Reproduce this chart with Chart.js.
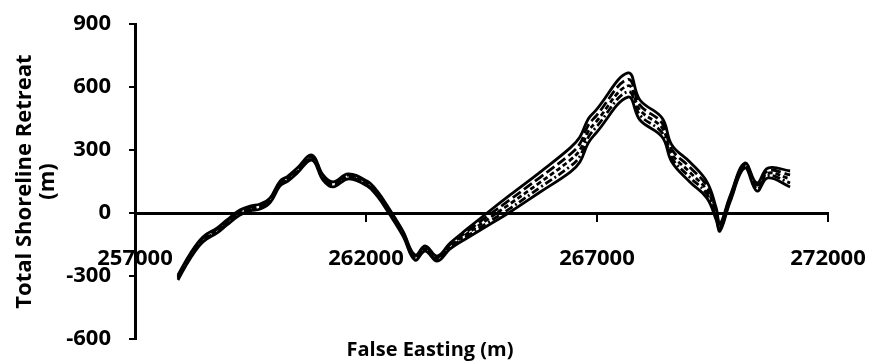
<!DOCTYPE html>
<html>
<head>
<meta charset="utf-8">
<script src="https://cdn.jsdelivr.net/npm/chart.js@4.4.0/dist/chart.umd.min.js"></script>
<style>
  html, body { margin: 0; padding: 0; background: #fff; }
  #wrap { width: 869px; height: 363px; }
</style>
</head>
<body>
<div id="wrap"><canvas id="shoreline"></canvas></div>
<script>
// False easting (m) of each profile
const easting = [
  257930, 258190, 258470, 258780, 258990, 259270, 259490, 259710, 259920, 260140,
  260310, 260510, 260830, 261070, 261290, 261610, 262020, 262240, 262520, 262800,
  263060, 263280, 263540, 263820, 264190, 264620, 265120, 265770, 266420, 266630,
  266810, 266980, 267670, 267930, 268410, 268620, 269010, 269380, 269580, 269660,
  269880, 270200, 270460, 270700, 271180
];

// Total shoreline retreat (m), one array per series
const retreatSolidTop = [
  -295, -195, -114, -71, -33, 14, 33, 43, 71, 152,
  176, 214, 276, 181, 148, 186, 152, 105, 14, -86,
  -200, -157, -205, -143, -76, 0, 86, 195, 310, 362,
  448, 490, 667, 538, 452, 324, 243, 148, 24, -52,
  81, 238, 143, 214, 200
];
const retreatLongDash = [
  -301, -201, -120, -77, -39, 8, 27, 37, 65, 146,
  170, 208, 270, 175, 142, 180, 146, 99, 8, -92,
  -206, -163, -211, -150, -88, -16, 64, 170, 280, 330,
  418, 462, 636, 514, 428, 302, 218, 128, 9, -60,
  74, 232, 133, 202, 181
];
const retreatDash = [
  -307, -207, -126, -83, -45, 2, 21, 31, 59, 140,
  164, 202, 264, 169, 136, 174, 140, 93, 2, -98,
  -212, -169, -217, -157, -98, -32, 44, 146, 252, 300,
  388, 434, 606, 490, 405, 282, 194, 108, -5, -69,
  66, 226, 124, 190, 162
];
const retreatDashDot = [
  -313, -213, -132, -89, -51, -4, 15, 25, 53, 134,
  158, 196, 258, 163, 130, 168, 134, 87, -4, -104,
  -218, -175, -223, -164, -110, -48, 22, 122, 222, 270,
  360, 408, 578, 466, 382, 262, 170, 90, -19, -78,
  59, 220, 114, 178, 143
];
const retreatSolidBottom = [
  -319, -219, -138, -95, -57, -10, 10, 19, 48, 129,
  152, 190, 252, 157, 124, 162, 129, 81, -10, -110,
  -224, -181, -229, -171, -119, -62, 5, 100, 195, 243,
  333, 381, 552, 443, 362, 243, 148, 71, -33, -86,
  52, 214, 105, 167, 124
];

const xTicks = [257000, 262000, 267000, 272000];
const yTicks = [-600, -300, 0, 300, 600, 900];

const FONT = "'Open Sans', 'Liberation Sans', sans-serif";
Chart.defaults.font.family = FONT;
Chart.defaults.font.weight = 'bold';
Chart.defaults.color = '#000';

const toPoints = arr => arr.map((v, i) => ({ x: easting[i], y: v }));

function series(values, dash) {
  return {
    data: toPoints(values),
    borderColor: '#000',
    borderWidth: 2.8,
    borderDash: dash,
    pointRadius: 0,
    tension: 0.4,
    fill: false,
  };
}

// x-axis title sits at the foot of the figure, away from the zero-crossing axis
const bottomTitle = {
  id: 'bottomTitle',
  afterDraw(chart) {
    const c = chart.ctx;
    c.save();
    c.font = 'bold 20px ' + FONT;
    c.fillStyle = '#000';
    c.textAlign = 'center';
    c.textBaseline = 'middle';
    c.fillText('False Easting (m)', 430, 350);
    c.restore();
  }
};

new Chart(document.getElementById('shoreline'), {
  type: 'line',
  data: {
    datasets: [
      series(retreatSolidTop, []),
      series(retreatLongDash, [10, 4]),
      series(retreatDash, [5, 3]),
      series(retreatDashDot, [8, 3, 2, 3]),
      series(retreatSolidBottom, []),
    ]
  },
  options: {
    responsive: true,
    maintainAspectRatio: false,
    animation: false,
    layout: { padding: { top: 24, right: 0, bottom: 24, left: 0 } },
    plugins: {
      legend: { display: false },
      tooltip: { enabled: false },
    },
    scales: {
      x: {
        type: 'linear',
        position: { y: 0 },
        min: 257000,
        max: 272000,
        afterBuildTicks: s => { s.ticks = xTicks.map(v => ({ value: v })); },
        afterFit: s => { s.paddingLeft = 0; s.paddingRight = 41; },
        ticks: {
          font: { size: 22, weight: 'bold' },
          padding: 26,
          maxRotation: 0,
          callback: v => String(v),
        },
        grid: { drawOnChartArea: false, drawTicks: true, tickLength: 7, color: '#000', lineWidth: 2 },
        border: { display: true, color: '#000', width: 3 },
      },
      y: {
        type: 'linear',
        position: 'left',
        min: -600,
        max: 900,
        afterBuildTicks: s => { s.ticks = yTicks.map(v => ({ value: v })); },
        afterFit: s => { s.width = 135; s.paddingTop = 0; s.paddingBottom = 0; },
        ticks: {
          font: { size: 22, weight: 'bold' },
          padding: 18,
          callback: v => String(v),
        },
        grid: { drawOnChartArea: false, drawTicks: true, tickLength: 6, color: '#000', lineWidth: 2 },
        border: { display: true, color: '#000', width: 3 },
        title: {
          display: true,
          text: ['Total Shoreline Retreat', '(m)'],
          font: { size: 22, weight: 'bold', lineHeight: 1.05 },
          padding: { top: 13, bottom: 0 },
        },
      }
    }
  },
  plugins: [bottomTitle]
});
</script>
</body>
</html>
